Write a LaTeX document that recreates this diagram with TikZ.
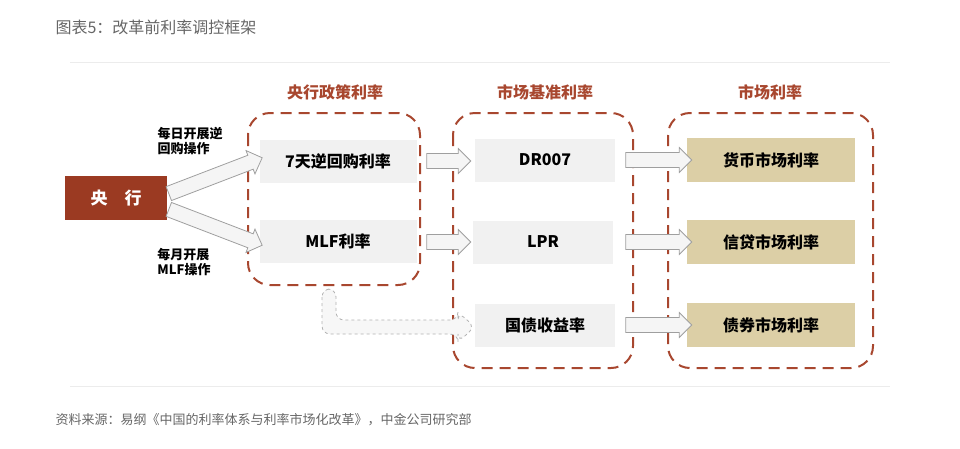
\documentclass[tikz,border=0pt]{standalone}
\usepackage{fontspec}
\setmainfont{Noto Sans CJK SC}
\usetikzlibrary{shapes.arrows,calc}
\definecolor{dred}{HTML}{9B3A22}
\definecolor{gred}{HTML}{A8472F}
\definecolor{tan}{HTML}{DCCFA6}
\definecolor{lg}{HTML}{F1F1F1}
\tikzset{
 grp/.style={draw=gred,line width=2pt,dash pattern=on 11pt off 7pt,rounded corners=22pt},
 gtitle/.style={text=gred,font=\fontsize{16}{16}\selectfont\bfseries},
 rbox/.style={fill=lg,minimum width=157pt,minimum height=43pt,font=\fontsize{16}{16}\selectfont\bfseries},
 tbox/.style={fill=tan,minimum width=168pt,minimum height=44pt,font=\fontsize{16}{16}\selectfont\bfseries},
 barrow/.style={single arrow,draw=gray!75,fill=gray!8,line width=0.8pt,minimum width=25pt,single arrow head extend=5pt,inner xsep=1pt,inner ysep=7pt},
 lbl/.style={font=\fontsize{13}{15.5}\selectfont\bfseries,align=left},
}
\begin{document}
\begin{tikzpicture}[x=1pt,y=-1pt]
\useasboundingbox (0,0) rectangle (960,448);
\node[anchor=west,text=gray!80!black,font=\fontsize{16}{16}\selectfont] (title) at (52,27) {图表5：改革前利率调控框架};
\draw[gray!15,line width=1pt] (70,62) -- (890,62);
\draw[gray!15,line width=1pt] (70,386) -- (890,386);
\node[anchor=west,text=gray!80!black,font=\fontsize{13}{13}\selectfont] (src) at (52,420) {资料来源：易纲《中国的利率体系与利率市场化改革》，中金公司研究部};
% groups
\draw[grp] (248,113) rectangle (420,285);
\draw[grp] (453,113) rectangle (633,368);
\draw[grp] (668,113) rectangle (873,368);
\node[gtitle] (t1) at (335,92) {央行政策利率};
\node[gtitle] (t2) at (545,92) {市场基准利率};
\node[gtitle] (t3) at (770,92) {市场利率};
% nodes
\node[fill=dred,text=white,minimum width=102pt,minimum height=44pt,font=\fontsize{17}{17}\selectfont\bfseries] (cb) at (116,198) {央\hspace{1em}行};
\node[rbox] (r7) at (338,161) {7天逆回购利率};
\node[rbox] (mlf) at (338,241) {MLF利率};
\node[rbox,minimum width=140pt] (dr) at (545,160) {DR007};
\node[rbox,minimum width=140pt] (lpr) at (543,242) {LPR};
\node[rbox,minimum width=140pt] (gz) at (545,325) {国债收益率};
\node[tbox] (m1) at (771,160) {货币市场利率};
\node[tbox] (m2) at (771,242) {信贷市场利率};
\node[tbox] (m3) at (771,325) {债券市场利率};
\node[lbl] (l1) at (190,141) {每日开展逆\\回购操作};
\node[lbl] (l2) at (184,262) {每月开展\\MLF操作};
% arrows
\node[barrow,minimum height=100pt,rotate=21] at (212,177) {};
\node[barrow,minimum height=100pt,rotate=-21] at (212,226) {};
\foreach \y in {161,242}{\node[barrow,minimum height=44pt] at (445,\y) {};}
\foreach \y in {160,242,325}{\node[barrow,minimum height=66pt] at (655,\y) {};}
% dashed L arrow
\draw[gray!60,fill=gray!6,dashed,line width=0.8pt,rounded corners=8pt]
 (322,289) -- (322,334) -- (458,334) -- (458,342) -- (475,327) -- (458,312) -- (458,320) -- (336,320) -- (336,289) -- cycle;
\end{tikzpicture}
\end{document}
